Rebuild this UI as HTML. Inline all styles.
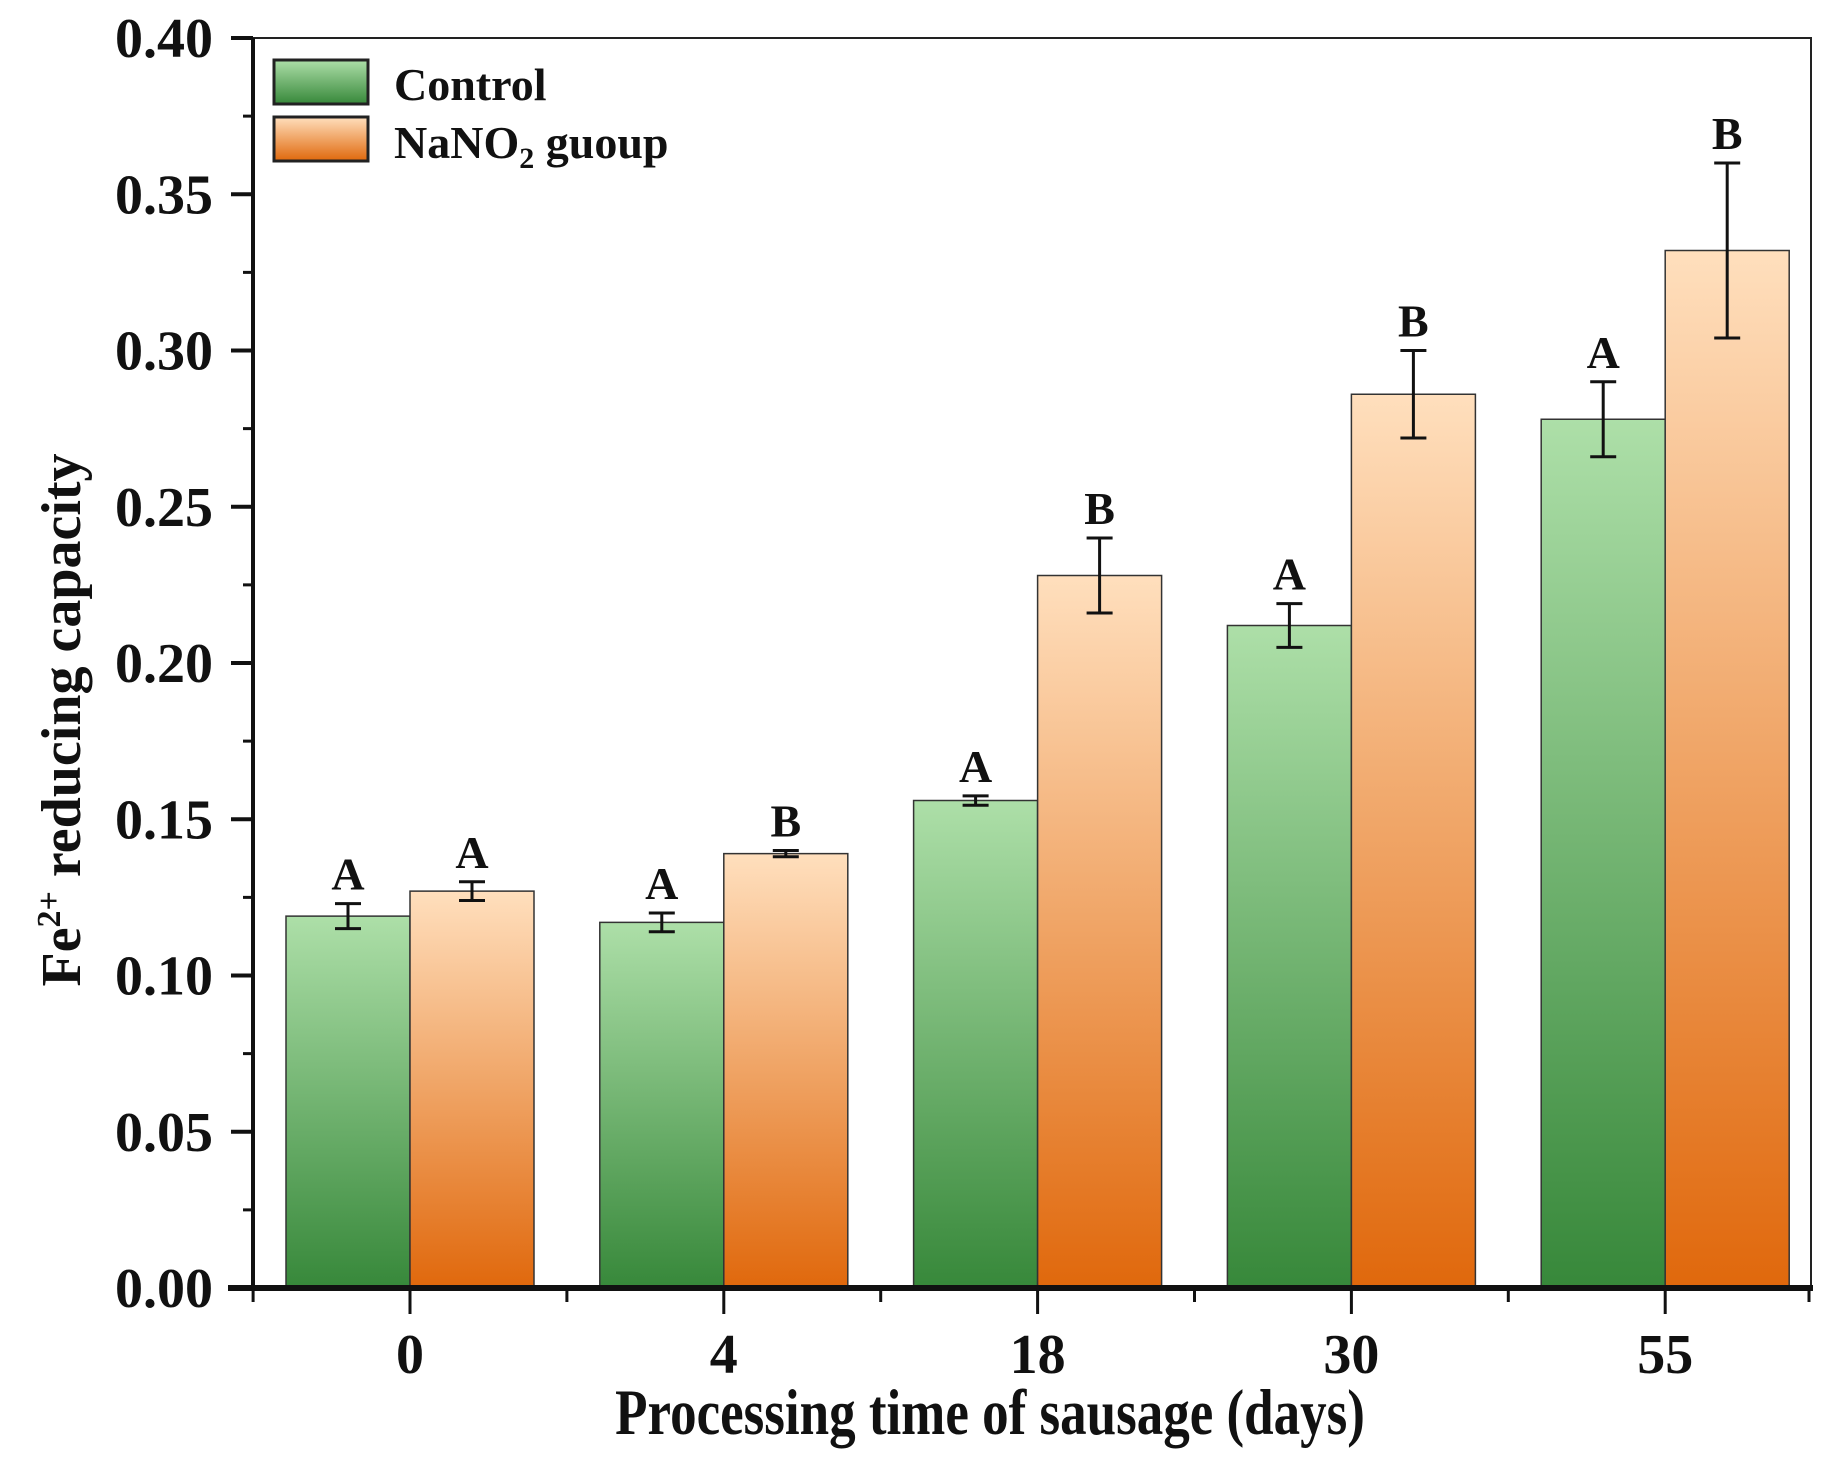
<!DOCTYPE html>
<html><head><meta charset="utf-8"><style>
body{margin:0;background:#fff}
svg text{font-family:"Liberation Serif",serif;font-weight:bold;fill:#111}
</style></head><body>
<svg id="chart" width="1825" height="1461" viewBox="0 0 1825 1461" xmlns="http://www.w3.org/2000/svg">
<defs>
<linearGradient id="gG" x1="0" y1="0" x2="0" y2="1"><stop offset="0" stop-color="#addfa8"/><stop offset="1" stop-color="#37883a"/></linearGradient>
<linearGradient id="gO" x1="0" y1="0" x2="0" y2="1"><stop offset="0" stop-color="#ffdfbd"/><stop offset="1" stop-color="#e0680c"/></linearGradient>
</defs>
<g id="plot"></g>
</svg>
<script>
const categories = ["0","4","18","30","55"];
const controlValues = [0.119,0.117,0.156,0.212,0.278];
const controlErrors = [0.004,0.003,0.0015,0.007,0.012];
const nitriteValues = [0.127,0.139,0.228,0.286,0.332];
const nitriteErrors = [0.003,0.001,0.012,0.014,0.028];
const controlLetters = ["A","A","A","A","A"];
const nitriteLetters = ["A","B","B","B","B"];
const yTicks = [0,0.05,0.10,0.15,0.20,0.25,0.30,0.35,0.40];

const NS="http://www.w3.org/2000/svg";
const g=document.getElementById('plot');
const L=253,R=1811,T=38,B=1288;
const y=v=>B-(v/0.40)*(B-T);
const step=313.8, x0=410;
const xc=i=>x0+step*i;
const bw=124;
function mk(t,a,p){const e=document.createElementNS(NS,t);for(const k in a)e.setAttribute(k,a[k]);(p||g).appendChild(e);return e;}

const fr=mk('rect',{x:L,y:T,width:R-L,height:B-T,fill:'none',stroke:'#222','stroke-width':2});



function bar(i,v,e,fill,off,name,letter){
  const x=xc(i)+off;
  const r=mk('rect',{x:x,y:y(v),width:bw,height:B-y(v),fill:fill,stroke:'#333','stroke-width':1.5});
  
  
  const cx=x+bw/2;
  const eg=mk('g',{stroke:'#111','stroke-width':3});
  
  
  mk('line',{x1:cx,x2:cx,y1:y(v+e),y2:y(v-e)},eg);
  mk('line',{x1:cx-13,x2:cx+13,y1:y(v+e),y2:y(v+e)},eg);
  mk('line',{x1:cx-13,x2:cx+13,y1:y(v-e),y2:y(v-e)},eg);
  const t=mk('text',{x:cx,y:y(v+e)-14,'text-anchor':'middle','font-size':46});
  t.textContent=letter;
  
  
}
categories.forEach((c,i)=>{
  bar(i,controlValues[i],controlErrors[i],'url(#gG)',-bw,'bar-control-'+c,controlLetters[i]);
  bar(i,nitriteValues[i],nitriteErrors[i],'url(#gO)',0,'bar-nitrite-'+c,nitriteLetters[i]);
});

const ax=mk('g',{stroke:'#111'});


mk('line',{x1:L,x2:L,y1:T,y2:B,'stroke-width':4},ax);
mk('line',{x1:L-25,x2:R+2,y1:B,y2:B,'stroke-width':6},ax);
yTicks.forEach((v,i)=>{
  mk('line',{x1:L-22,x2:L,y1:y(v),y2:y(v),'stroke-width':4},ax);
  if(i<yTicks.length-1) mk('line',{x1:L-10,x2:L,y1:y(v+0.025),y2:y(v+0.025),'stroke-width':3},ax);
  const t=mk('text',{x:L-40,y:y(v)+19,'text-anchor':'end','font-size':56});
  t.textContent=v.toFixed(2);
  
  
});
categories.forEach((c,i)=>{
  mk('line',{x1:xc(i),x2:xc(i),y1:B,y2:B+26,'stroke-width':3},ax);
  mk('line',{x1:xc(i)-step/2,x2:xc(i)-step/2,y1:B,y2:B+14,'stroke-width':3},ax);
  const t=mk('text',{x:xc(i),y:1373,'text-anchor':'middle','font-size':56});
  t.textContent=c;
  
  
});
mk('line',{x1:R-2,x2:R-2,y1:B,y2:B+14,'stroke-width':3},ax);
</script>
<svg style="position:absolute;left:0;top:0" width="1825" height="1461">
<text transform="translate(990,1434) scale(1,1.22)" x="0" y="0" text-anchor="middle" font-size="53" style="font-family:'Liberation Serif',serif;font-weight:bold">Processing time of sausage (days)</text>
<text transform="translate(80,720) rotate(-90)" text-anchor="middle" font-size="56" style="font-family:'Liberation Serif',serif;font-weight:bold">Fe<tspan dy="-20" font-size="34">2+</tspan><tspan dy="20"> reducing capacity</tspan></text>
<g>
<rect x="274" y="60" width="94" height="44" fill="url(#gG)" stroke="#222" stroke-width="3"/>
<text x="394" y="100" font-size="46" style="font-family:'Liberation Serif',serif;font-weight:bold">Control</text>
<rect x="274" y="117" width="94" height="44" fill="url(#gO)" stroke="#222" stroke-width="3"/>
<text x="394" y="158" font-size="46" style="font-family:'Liberation Serif',serif;font-weight:bold">NaNO<tspan dy="10" font-size="30">2</tspan><tspan dy="-10"> guoup</tspan></text>
</g>
</svg>
</body></html>
